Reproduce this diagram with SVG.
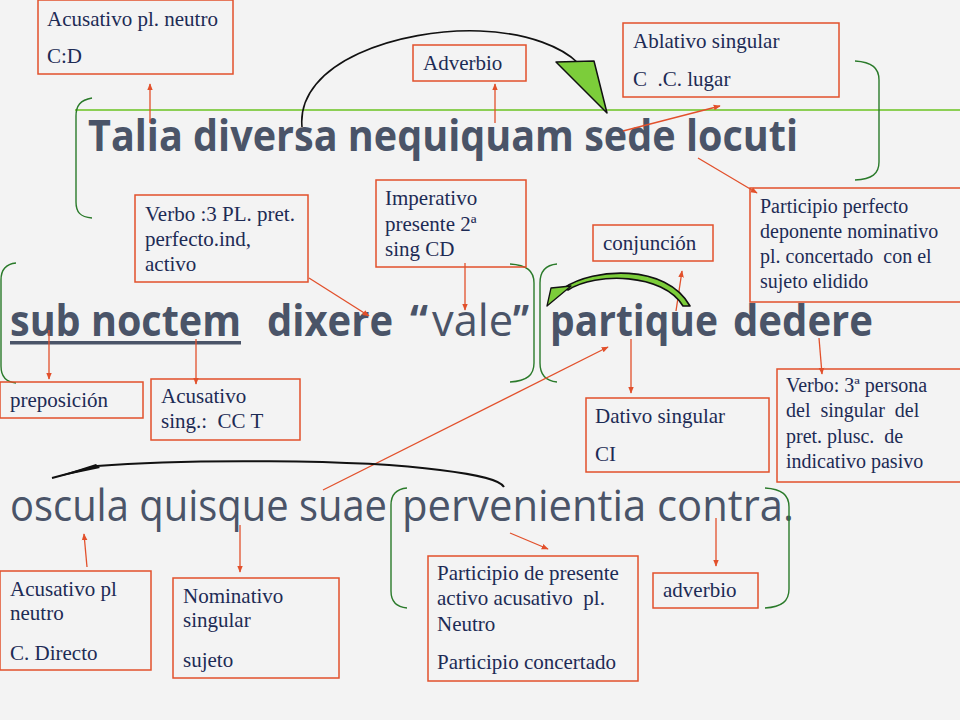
<svg xmlns="http://www.w3.org/2000/svg" width="960" height="720" viewBox="0 0 960 720">
<style>
.box{fill:none;stroke:#e2502b;stroke-width:1.5}
.bt{font-family:"Liberation Serif","Times New Roman",serif;font-size:21px;fill:#1d2b55;white-space:pre}
.sm{font-size:20px}
.mb{font-family:"Open Sans","DejaVu Sans",sans-serif;font-weight:bold;font-size:43px;fill:#4a5468}
.mr{font-family:"Open Sans","DejaVu Sans",sans-serif;font-weight:normal;font-size:44px;fill:#4a5468}
.arr{fill:none;stroke:#e2502b;stroke-width:1.3;marker-end:url(#ah)}
.br{fill:none;stroke:#2a7a2a;stroke-width:1.4}
</style>
<defs>
<marker id="ah" viewBox="0 0 10 10" refX="9" refY="5" markerWidth="7" markerHeight="7" orient="auto" markerUnits="userSpaceOnUse">
<path d="M0,1 L10,5 L0,9 z" fill="#e2502b"/>
</marker>
</defs>
<rect x="0" y="0" width="960" height="720" fill="#f3f3f3"/>
<line x1="75" y1="110" x2="960" y2="110" stroke="#8ccf55" stroke-width="2"/>

<g id="sentence">
<text class="mb" x="88" y="151" textLength="710" lengthAdjust="spacingAndGlyphs">Talia diversa nequiquam sede locuti</text>
<text class="mb" x="10" y="336" textLength="231" lengthAdjust="spacingAndGlyphs">sub noctem</text>
<rect x="10" y="341" width="231" height="3.5" fill="#4a5468"/>
<text class="mb" x="267" y="336" textLength="126" lengthAdjust="spacingAndGlyphs">dixere</text>
<text class="mb" x="410" y="336" textLength="18" lengthAdjust="spacingAndGlyphs">“</text>
<text class="mr" x="432" y="336" textLength="81" lengthAdjust="spacingAndGlyphs" style="font-size:43px;font-weight:500">vale</text>
<text class="mb" x="513" y="336" textLength="16" lengthAdjust="spacingAndGlyphs">”</text>
<text class="mb" x="550" y="336" textLength="168" lengthAdjust="spacingAndGlyphs">partique</text>
<text class="mb" x="733" y="336" textLength="140" lengthAdjust="spacingAndGlyphs">dedere</text>
<text class="mr" x="10" y="521" textLength="377" lengthAdjust="spacingAndGlyphs">oscula quisque suae</text>
<text class="mr" x="402" y="521" textLength="392" lengthAdjust="spacingAndGlyphs">pervenientia contra.</text>
</g>

<g id="brackets">
<path class="br" d="M92,98 C80,100 76,106 76,116 L76,202 C76,212 80,217 92,218"/>
<path class="br" d="M855,61 C872,62 879,68 879,80 L879,162 C879,174 872,179 855,180"/>
<path class="br" d="M16,263 C5,264 1,270 1,280 L1,366 C1,376 5,382 16,383"/>
<path class="br" d="M510,264 C527,265 534,271 534,283 L534,363 C534,375 527,381 510,382"/>
<path class="br" d="M557,264 C546,265 540,271 540,283 L540,363 C540,375 546,381 557,382"/>
<path class="br" d="M407,488 C396,489 391,495 391,505 L391,591 C391,601 396,607 407,608"/>
<path class="br" d="M765,488 C782,489 789,495 789,507 L789,589 C789,601 782,607 765,608"/>
</g>

<g id="n1"><rect class="box" x="38" y="0" width="195" height="74"/>
<text class="bt" x="47" y="26">Acusativo pl. neutro</text><text class="bt" x="47" y="63">C:D</text></g>
<g id="n2"><rect class="box" x="413" y="45" width="113" height="36"/>
<text class="bt" x="423" y="70">Adverbio</text></g>
<g id="n3"><rect class="box" x="623" y="23" width="216" height="74"/>
<text class="bt" x="633" y="48">Ablativo singular</text><text class="bt" x="633" y="86">C  .C. lugar</text></g>
<g id="n4"><rect class="box" x="750" y="188" width="215" height="114"/>
<text class="bt sm" x="760" y="213">Participio perfecto</text>
<text class="bt sm" x="760" y="238">deponente nominativo</text>
<text class="bt sm" x="760" y="263">pl. concertado  con el</text>
<text class="bt sm" x="760" y="288">sujeto elidido</text></g>
<g id="n5"><rect class="box" x="135" y="195" width="173" height="87"/>
<text class="bt" x="145" y="221">Verbo :3 PL. pret.</text>
<text class="bt" x="145" y="246">perfecto.ind,</text>
<text class="bt" x="145" y="271">activo</text></g>
<g id="n6"><rect class="box" x="376" y="180" width="150" height="87"/>
<text class="bt" x="385" y="205">Imperativo</text>
<text class="bt" x="385" y="231">presente 2ª</text>
<text class="bt" x="385" y="256">sing CD</text></g>
<g id="n7"><rect class="box" x="593" y="225" width="120" height="36"/>
<text class="bt" x="603" y="250">conjunción</text></g>
<g id="n8"><rect class="box" x="0" y="382" width="143" height="36"/>
<text class="bt" x="10" y="407">preposición</text></g>
<g id="n9"><rect class="box" x="151" y="379" width="149" height="61"/>
<text class="bt" x="161" y="403">Acusativo</text>
<text class="bt" x="161" y="428">sing.:  CC T</text></g>
<g id="n10"><rect class="box" x="586" y="398" width="183" height="74"/>
<text class="bt" x="595" y="423">Dativo singular</text>
<text class="bt" x="595" y="461">CI</text></g>
<g id="n11"><rect class="box" x="777" y="369" width="190" height="113"/>
<text class="bt sm" x="786" y="392">Verbo: 3ª persona</text>
<text class="bt sm" x="786" y="417">del  singular  del</text>
<text class="bt sm" x="786" y="443">pret. plusc.  de</text>
<text class="bt sm" x="786" y="468">indicativo pasivo</text></g>
<g id="n12"><rect class="box" x="0" y="571" width="151" height="99"/>
<text class="bt" x="10" y="596">Acusativo pl</text>
<text class="bt" x="10" y="620">neutro</text>
<text class="bt" x="10" y="660">C. Directo</text></g>
<g id="n13"><rect class="box" x="173" y="578" width="166" height="100"/>
<text class="bt" x="183" y="603">Nominativo</text>
<text class="bt" x="183" y="627">singular</text>
<text class="bt" x="183" y="667">sujeto</text></g>
<g id="n14"><rect class="box" x="428" y="556" width="210" height="125"/>
<text class="bt" x="437" y="580">Participio de presente</text>
<text class="bt" x="437" y="605">activo acusativo  pl.</text>
<text class="bt" x="437" y="631">Neutro</text>
<text class="bt" x="437" y="669">Participio concertado</text></g>
<g id="n15"><rect class="box" x="653" y="573" width="105" height="35"/>
<text class="bt" x="663" y="597">adverbio</text></g>

<g id="connectors">
<path class="arr" d="M150,123 L150,84"/>
<path class="arr" d="M495,123 L495,84"/>
<path class="arr" d="M623,131 L720,106"/>
<path class="arr" d="M698,158 L757,193"/>
<path class="arr" d="M309,278 L369,316"/>
<path class="arr" d="M465,263 L465,310"/>
<path class="arr" d="M49,330 L49,379"/>
<path class="arr" d="M196,339 L196,384"/>
<path class="arr" d="M676,311 L682,271"/>
<path class="arr" d="M631,339 L631,393"/>
<path class="arr" d="M819,338 L822,374"/>
<path class="arr" d="M323,490 L608,347"/>
<path class="arr" d="M87,567 L84,534"/>
<path class="arr" d="M240,525 L240,572"/>
<path class="arr" d="M510,533 L548,549"/>
<path class="arr" d="M716,518 L716,566"/>
<path d="M302,127 C296,62 400,28 480,31 C530,33 563,48 578,63" fill="none" stroke="#111" stroke-width="1.6"/>
<polygon points="556,62 594,61 607,113" fill="#7ccd3a" stroke="#111" stroke-width="1.5" stroke-linejoin="round"/>
<path d="M564,288 C593,268 666,263 690,306 L683,306 C663,273 596,272 568,290 Z" fill="#7ccd3a" stroke="#111" stroke-width="1.6" stroke-linejoin="round"/>
<polygon points="547,306 551,288 571,286" fill="#7ccd3a" stroke="#111" stroke-width="1.3" stroke-linejoin="round"/>
<path d="M52,478 L97,466 C180,459 360,459 440,470 C480,475 500,480 504,487" fill="none" stroke="#111" stroke-width="2"/>
<polygon points="52,478 96,464 100,468" fill="#111"/>
</g>
</svg>
